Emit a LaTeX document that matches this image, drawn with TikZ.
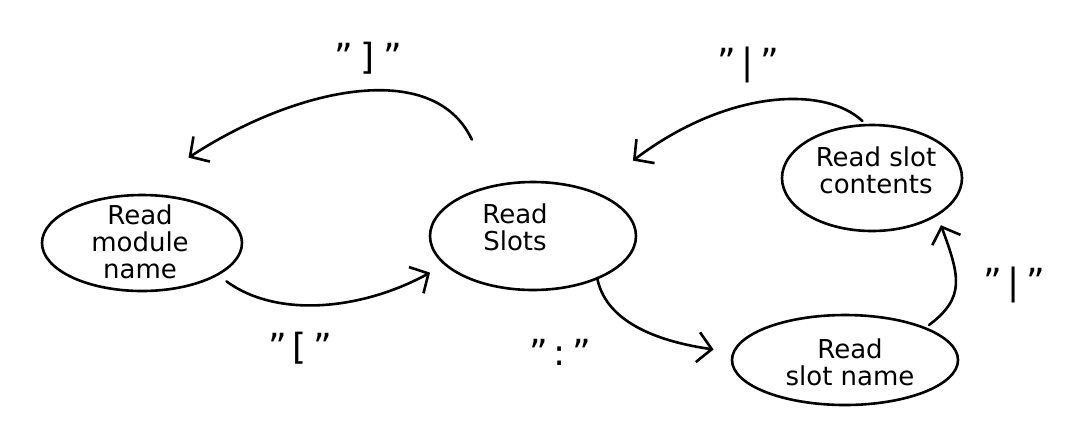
\documentclass[tikz,border=0pt]{standalone}
\usepackage{fontspec}
\setmainfont{DejaVu Sans}
\usetikzlibrary{shapes.geometric,arrows.meta}
\begin{document}
\begin{tikzpicture}[x=1pt,y=-1pt,
  line width=2.6pt, line cap=round, line join=round,
  state/.style={draw, ellipse, inner sep=0pt},
  txt/.style={font=\fontsize{26}{27}\selectfont, align=center},
  lab/.style={font=\fontsize{36}{36}\selectfont},
  arr/.style={-{Straight Barb[length=14pt,width=30pt]}}]
\useasboundingbox (0,0) rectangle (1068,424);
% states
\node[state, minimum width=200pt, minimum height=96pt] (module) at (142,243) {};
\node[state, minimum width=206pt, minimum height=108pt] (slots) at (533,236) {};
\node[state, minimum width=180pt, minimum height=106pt] (contents) at (872,178) {};
\node[state, minimum width=226pt, minimum height=90pt] (sname) at (845,360) {};
% texts
\node[txt] (moduletxt) at (140,242) {Read\\module\\name};
\node[txt] (slotstxt) at (515,227) {Read\\Slots};
\node[txt] (contentstxt) at (876,170) {Read slot\\contents};
\node[txt] (snametxt) at (850,362) {Read\\slot name};
% transitions
\draw[arr, shorten <=50pt, shorten >=66pt]
  (slots.128) .. controls +(-60,-128) and +(160,-105) .. (module.100);
\draw[arr, shorten <=10pt, shorten >=16pt]
  (module.-23) .. controls +(60,44) and +(-80,44) .. (slots.198);
\draw[arr, shorten >=19pt]
  (slots.-34) .. controls +(10,45) and +(-70,-10) .. (sname.176);
\draw[arr, shorten <=4pt, shorten >=10pt]
  (sname.22) .. controls +(40,-30) and +(22,60) .. (contents.-30);
\draw[arr, shorten <=4pt, shorten >=50pt]
  (contents.97) .. controls +(-40,-38) and +(135,-102) .. (slots.37);
% labels
\node[lab] (l1) at (368,58) {"\hspace{8pt}]\hspace{8pt}"};
\node[lab] (l2) at (300,348) {"\hspace{6pt}[\hspace{6pt}"};
\node[lab] (l3) at (560,352) {"\hspace{6pt}:\hspace{6pt}"};
\node[lab] (l4) at (748,65) {"\hspace{6pt}|\hspace{6pt}"};
\node[lab] (l5) at (1014,285) {"\hspace{6pt}|\hspace{6pt}"};
\end{tikzpicture}
\end{document}
